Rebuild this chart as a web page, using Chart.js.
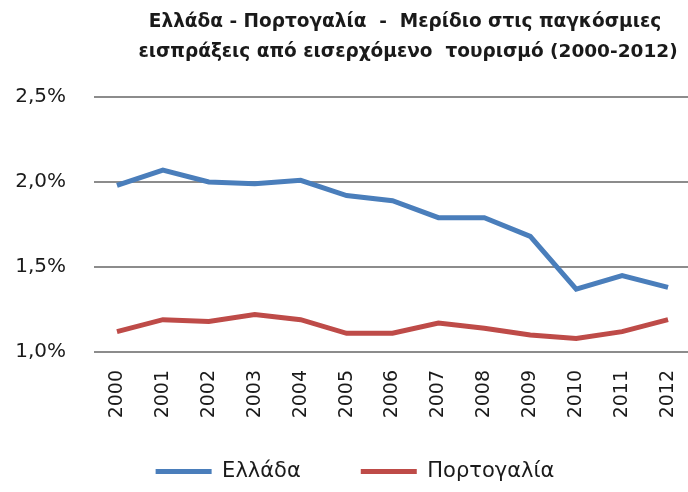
<!DOCTYPE html>
<html>
<head>
<meta charset="utf-8">
<script src="https://cdn.jsdelivr.net/npm/chart.js@4"></script>
<style>
  html, body { margin: 0; padding: 0; background: #ffffff; }
  #wrap { width: 688px; height: 492px; position: relative; }
</style>
</head>
<body>
<div id="wrap"><canvas id="c" width="688" height="492"></canvas></div>
<script>
const titleLines = ["Ελλάδα - Πορτογαλία  -  Μερίδιο στις παγκόσμιες", "εισπράξεις από εισερχόμενο  τουρισμό (2000-2012)"];
const years = ["2000","2001","2002","2003","2004","2005","2006","2007","2008","2009","2010","2011","2012"];
const seriesNames = ["Ελλάδα", "Πορτογαλία"];
const greece   = [1.98, 2.07, 2.00, 1.99, 2.01, 1.92, 1.89, 1.79, 1.79, 1.68, 1.37, 1.45, 1.38];
const portugal = [1.12, 1.19, 1.18, 1.22, 1.19, 1.11, 1.11, 1.17, 1.14, 1.10, 1.08, 1.12, 1.19];
const yTicks = [1.0, 1.5, 2.0, 2.5];

const BLUE = "#4a7ebb";
const RED = "#be4b48";
const FONT = "'DejaVu Sans', sans-serif";

const titlePlugin = {
  id: "customTitle",
  afterLayout(chart) {
    // extend plot area slightly past the canvas edge, like the reference
    const x = chart.scales.x;
    const newRight = 691;
    x.right = newRight;
    x.width = newRight - x.left;
    x.configure();
    // let the rotated year labels draw below the (short) axis box
    x.bottom = 445;
    chart.chartArea.right = newRight;
    chart.chartArea.width = newRight - chart.chartArea.left;
    // shift legend slightly to the right
    if (chart.legend) { chart.legend.left += 11; chart.legend.right += 11; }
  },
  afterDraw(chart) {
    const ctx = chart.ctx;
    ctx.save();
    ctx.fillStyle = "#1a1a1a";
    ctx.font = "bold 18.5px " + FONT;
    ctx.textAlign = "center";
    ctx.textBaseline = "middle";
    ctx.fillText(titleLines[0], 405, 22);
    ctx.fillText(titleLines[1], 408, 52);
    ctx.restore();
  }
};

new Chart(document.getElementById("c"), {
  type: "line",
  data: {
    labels: years,
    datasets: [
      { label: seriesNames[0], data: greece, borderColor: BLUE, backgroundColor: BLUE, borderWidth: 5, pointRadius: 0, tension: 0 },
      { label: seriesNames[1], data: portugal, borderColor: RED, backgroundColor: RED, borderWidth: 5, pointRadius: 0, tension: 0 }
    ]
  },
  options: {
    responsive: false,
    animation: false,
    layout: { padding: { top: 97, left: 0, right: 0, bottom: 0 } },
    plugins: {
      title: { display: false },
      tooltip: { enabled: false },
      legend: {
        position: "bottom",
        labels: {
          font: { family: FONT, size: 21 },
          color: "#1a1a1a",
          boxWidth: 56,
          boxHeight: 5,
          padding: 60,
          generateLabels(chart) {
            return Chart.defaults.plugins.legend.labels.generateLabels(chart).map(it => Object.assign(it, { lineWidth: 0 }));
          }
        }
      }
    },
    scales: {
      x: {
        offset: true,
        grid: { display: false, drawTicks: false },
        border: { display: false },
        ticks: {
          minRotation: 90, maxRotation: 90,
          padding: 18,
          color: "#1a1a1a",
          font: { family: FONT, size: 19 }
        },
        afterFit(scale) { scale.height = 49; scale.paddingLeft = 0; scale.paddingRight = 0; }
      },
      y: {
        min: 1.0, max: 2.5,
        afterBuildTicks(scale) { scale.ticks = yTicks.map(v => ({ value: v })); },
        grid: { color: "#8c8c8c", lineWidth: 2, drawTicks: false },
        border: { display: false },
        ticks: {
          padding: 28,
          color: "#1a1a1a",
          font: { family: FONT, size: 20 },
          callback: v => v.toFixed(1).replace(".", ",") + "%"
        },
        afterFit(scale) { scale.width = 94; }
      }
    }
  },
  plugins: [titlePlugin]
});
</script>
</body>
</html>
